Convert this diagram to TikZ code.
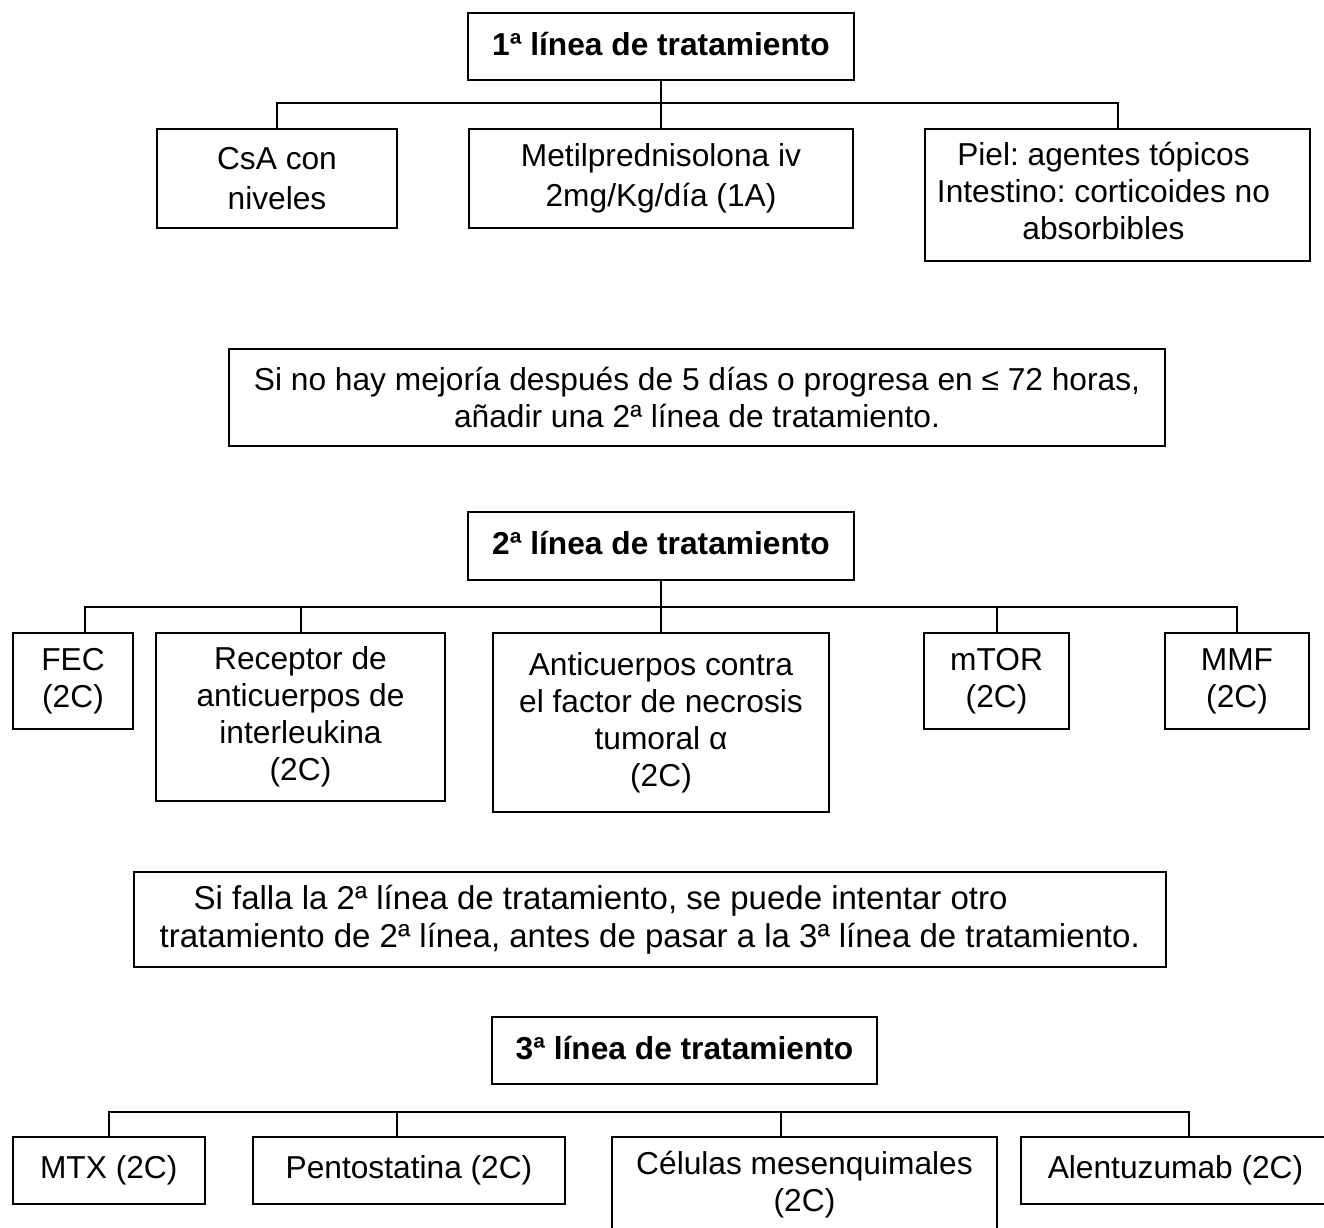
\documentclass[tikz,border=0pt]{standalone}
\usepackage{fontspec}
\setmainfont{Liberation Sans}
\usetikzlibrary{calc}
\frenchspacing
\begin{document}
\begin{tikzpicture}[x=1pt,y=-1pt,
  box/.style={draw, line width=2pt, inner sep=0pt, align=center,
              font=\fontsize{31.7}{37}\selectfont},
  rowone/.style={font=\fontsize{31.7}{40}\selectfont},
  title/.style={box, font=\bfseries\fontsize{31.7}{37}\selectfont,
                text height=23pt, text depth=6pt},
  txt/.style={inner sep=0pt, align=center, font=\fontsize{31.7}{37}\selectfont},
  link/.style={line width=2pt}]

\fill[white] (0,0) rectangle (1324,1227);
\useasboundingbox (0,0) rectangle (1324,1227);
\clip (0,0) rectangle (1324,1227);

% ---- first line of treatment ----
\node[title, minimum width=386pt, minimum height=67pt] (t1) at (661,46.5) {1ª línea de tratamiento};
\node[box, rowone, minimum width=240pt, minimum height=99pt] (cs) at (277,178.5) {CsA con\\niveles};
\node[box, rowone, minimum width=384pt, minimum height=99pt] (me) at (661,178.5) {Metilprednisolona iv\\2mg/Kg/día (1A)};
\node[box, minimum width=385pt, minimum height=132pt] (pi) at (1117.5,195) {};
\node[txt] (pi-t) at ($(pi)+(-14,-4)$) {Piel: agentes tópicos\\Intestino: corticoides no\\absorbibles};

\draw[link] (t1.south) -- (me.north);
\draw[link] (cs.north) -- ++(0,-25) -| (pi.north);

% ---- note before the second line ----
\node[box, minimum width=936pt, minimum height=97pt] (n1) at (697,397.5)
  {Si no hay mejoría después de 5 días o progresa en ≤ 72 horas,\\añadir una 2ª línea de tratamiento.};

% ---- second line of treatment ----
\node[title, minimum width=386pt, minimum height=68pt] (t2) at (661,546) {2ª línea de tratamiento};
\node[box, minimum width=120.5pt, minimum height=96pt] (fec) at (73,681) {FEC\\(2C)};
\node[box, minimum width=289pt, minimum height=168pt] (rec) at (300.5,717) {Receptor de\\anticuerpos de\\interleukina\\(2C)};
\node[box, minimum width=336pt, minimum height=179pt] (anti) at (661,722.5) {Anticuerpos contra\\el factor de necrosis\\tumoral α\\(2C)};
\node[box, minimum width=145pt, minimum height=96pt] (mtor) at (996.5,681) {mTOR\\(2C)};
\node[box, minimum width=144pt, minimum height=96pt] (mmf) at (1237,681) {MMF\\(2C)};

\draw[link] (t2.south) -- (anti.north);
\draw[link] ($(fec.north)+(12,0)$) -- ++(0,-25) -| (mmf.north);
\draw[link] (rec.north) -- ++(0,-25);
\draw[link] (mtor.north) -- ++(0,-25);

% ---- note before the third line ----
\node[box, minimum width=1032.5pt, minimum height=95pt, align=left,
      font=\fontsize{33}{38}\selectfont] (n2) at (649.75,919.5)
  {\hspace*{34pt}Si falla la 2ª línea de tratamiento, se puede intentar otro\\tratamiento de 2ª línea, antes de pasar a la 3ª línea de tratamiento.};

% ---- third line of treatment ----
\node[title, minimum width=385pt, minimum height=67pt] (t3) at (684.5,1050.5) {3ª línea de tratamiento};
\node[box, minimum width=192.5pt, minimum height=67pt] (mtx) at (108.75,1170.5) {MTX (2C)};
\node[box, minimum width=312pt, minimum height=67pt] (pen) at (409,1170.5) {Pentostatina (2C)};
\node[box, minimum width=385pt, minimum height=95pt] (cel) at (804.5,1184.5) {Células mesenquimales\\(2C)};
\node[box, minimum width=309pt, minimum height=67pt] (ale) at (1175.5,1170.5) {Alentuzumab (2C)};

\draw[link] (mtx.north) -- ++(0,-24) -| ($(ale.north)+(13.5,0)$);
\draw[link] ($(pen.north)+(-12,0)$) -- ++(0,-24);
\draw[link] ($(cel.north)+(-23.5,0)$) -- ++(0,-24);

\end{tikzpicture}
\end{document}
